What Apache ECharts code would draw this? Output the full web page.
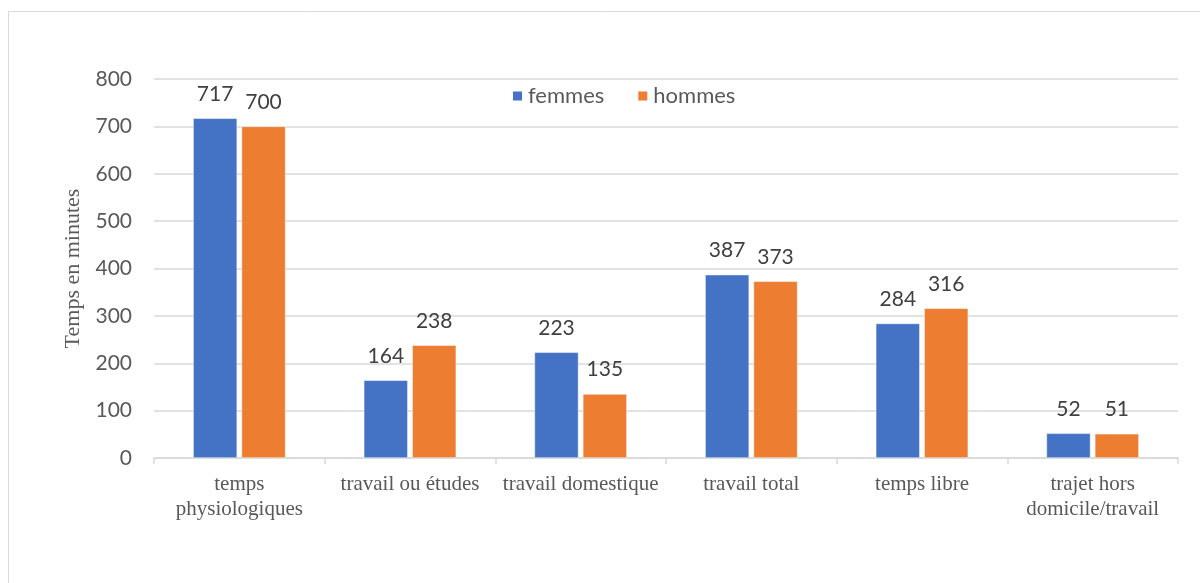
<!DOCTYPE html>
<html>
<head>
<meta charset="utf-8">
<script src="https://cdn.jsdelivr.net/npm/echarts@6/dist/echarts.min.js"></script>
<style>
  html, body { margin: 0; padding: 0; background: #fff; }
  #chart { width: 1200px; height: 583px; }
</style>
</head>
<body>
<div id="chart"></div>
<script>
// data
var categories = ["temps\nphysiologiques", "travail ou études", "travail domestique", "travail total", "temps libre", "trajet hors\ndomicile/travail"];
var femmes = [717, 164, 223, 387, 284, 52];
var hommes = [700, 238, 135, 373, 316, 51];
var yTicks = [0, 800, 100];  // min, max, step

var myChart = echarts.init(document.getElementById("chart"));

var labelStyle = {
  show: true,
  position: "top",
  distance: 14,
  fontFamily: "Lato",
  fontSize: 21,
  color: "#404040"
};

var option = {
  animation: false,
  graphic: [{
    type: "rect",
    shape: { x: 8.5, y: 11.5, width: 1250, height: 650 },
    style: { fill: "none", stroke: "#d9d9d9", lineWidth: 1 }
  }],
  legend: {
    data: ["femmes", "hommes"],
    left: 506,
    top: 80,
    itemWidth: 11,
    itemHeight: 11,
    itemGap: 32,
    icon: "rect",
    textStyle: { fontFamily: "Lato", fontSize: 22, color: "#595959" }
  },
  grid: { left: 154, right: 22, top: 79, bottom: 125 },
  xAxis: {
    type: "category",
    data: categories,
    axisLine: { lineStyle: { color: "#d9d9d9", width: 1.5 } },
    axisTick: { show: true, length: 6, lineStyle: { color: "#d9d9d9", width: 1.5 } },
    axisLabel: {
      fontFamily: "Liberation Serif",
      fontSize: 21,
      lineHeight: 25,
      color: "#595959",
      margin: 14,
      interval: 0
    }
  },
  yAxis: {
    type: "value",
    min: yTicks[0],
    max: yTicks[1],
    interval: yTicks[2],
    name: "Temps en minutes",
    nameLocation: "middle",
    nameGap: 68,
    nameTextStyle: { fontFamily: "Liberation Serif", fontSize: 22, color: "#595959" },
    axisLine: { show: false },
    axisTick: { show: false },
    axisLabel: { fontFamily: "Lato", fontSize: 21, color: "#595959", margin: 22 },
    splitLine: { lineStyle: { color: "#d9d9d9", width: 1.5 } }
  },
  series: [
    {
      name: "femmes",
      type: "bar",
      data: femmes,
      barWidth: 44,
      barGap: "10%",
      itemStyle: { color: "#4472c4", borderColor: "#fff", borderWidth: 0.5 },
      label: labelStyle
    },
    {
      name: "hommes",
      type: "bar",
      data: hommes,
      barWidth: 44,
      barGap: "10%",
      itemStyle: { color: "#ed7d31", borderColor: "#fff", borderWidth: 0.5 },
      label: labelStyle
    }
  ]
};
myChart.setOption(option);
</script>
</body>
</html>
